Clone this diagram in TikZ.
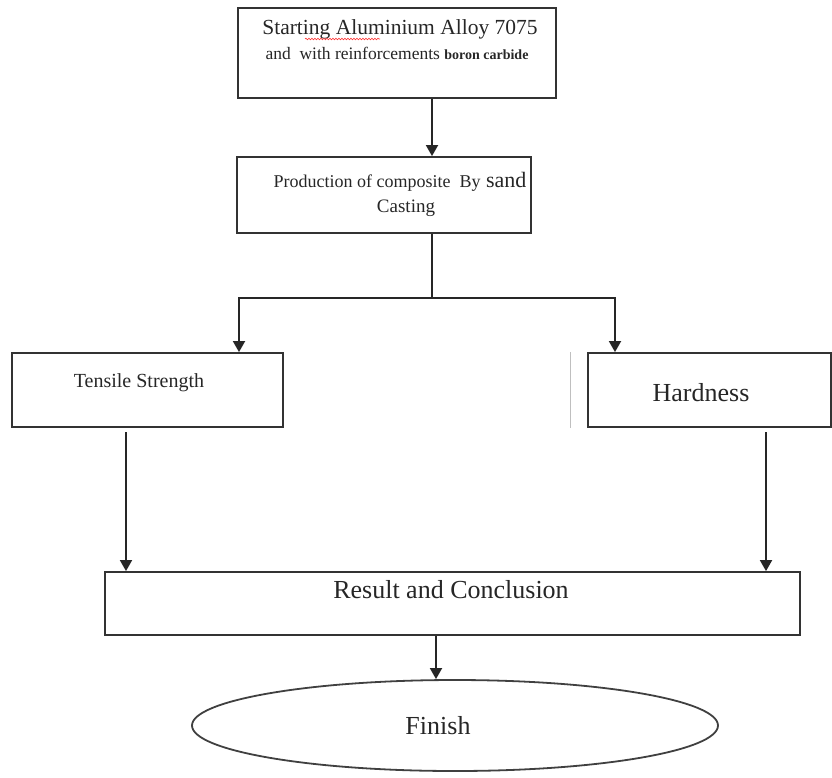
\documentclass[tikz,border=0pt]{standalone}
\usepackage{fontspec}
\setmainfont{Liberation Serif}
\usetikzlibrary{shapes.geometric,arrows.meta,decorations.pathmorphing}
\begin{document}
\begin{tikzpicture}[x=1pt,y=-1pt,
  box/.style={draw=black!80,line width=1.8pt,rectangle,inner sep=0pt},
  oval/.style={draw=black!75,line width=1.8pt,ellipse,inner sep=0pt},
  conn/.style={draw=black!85,line width=1.8pt},
  arr/.style={conn,-{Triangle[length=11pt,width=12pt]}},
  txt/.style={inner sep=0pt,text=black!85,anchor=base}]
\useasboundingbox (0,0) rectangle (832,777);
% boxes
\node[box,minimum width=318pt,minimum height=90pt] (box1) at (397,53) {};
\node[box,minimum width=294pt,minimum height=76pt] (box2) at (384,195) {};
\node[box,minimum width=271pt,minimum height=74pt] (left) at (147.5,390) {};
\node[box,minimum width=243pt,minimum height=74pt] (right) at (709.5,390) {};
\node[box,minimum width=695pt,minimum height=63pt] (res) at (452.5,603.5) {};
\node[oval,minimum width=526pt,minimum height=91pt] (fin) at (455,725.5) {};
% texts
\node[txt] (t1) at (400,34) {\fontsize{21.5}{24}\selectfont Starting Aluminium Alloy 7075};
\node[txt] (t2) at (397,59) {\fontsize{17.5}{22}\selectfont and\ \ with reinforcements \fontsize{14}{18}\selectfont\bfseries boron carbide};
\node[txt] (t3) at (400,187) {\fontsize{18}{22}\selectfont Production of composite\ \ By\fontsize{22}{26}\selectfont\ sand};
\node[txt] (t4) at (406,212) {\fontsize{19}{22}\selectfont Casting};
\node[txt] (t5) at (139,387) {\fontsize{20}{22}\selectfont Tensile Strength};
\node[txt] (t6) at (701,401) {\fontsize{26}{28}\selectfont Hardness};
\node[txt] (t7) at (451,598) {\fontsize{26}{28}\selectfont Result and Conclusion};
\node[txt] (t8) at (438,734) {\fontsize{26}{28}\selectfont Finish};
% spell-check underline
\coordinate (u1) at (305,39);
\coordinate (u2) at (380,39);
\draw[red!80,line width=0.6pt,decorate,decoration={snake,amplitude=0.8pt,segment length=3pt}] (u1) -- (u2);
% connectors
\coordinate (j) at (432,298);
\coordinate (jl) at (239,298);
\coordinate (jr) at (615,298);
\coordinate (xl) at (126,432);
\coordinate (xr) at (766,432);
\coordinate (xf) at (436,635);
\draw[arr] (box1.south -| j) -- (box2.north -| j);
\draw[conn] (box2.south -| j) -- (j);
\draw[arr] (j) -- (jl) -- (left.north -| jl);
\draw[arr] (j) -- (jr) -- (right.north -| jr);
\draw[arr] (xl) -- (res.north -| xl);
\draw[arr] (xr) -- (res.north -| xr);
\draw[arr] (res.south -| xf) -- (fin.north -| xf);
% faint stray line
\coordinate (g1) at (570,352);
\coordinate (g2) at (570,428);
\draw[black!25,line width=1pt] (g1) -- (g2);
\end{tikzpicture}
\end{document}
